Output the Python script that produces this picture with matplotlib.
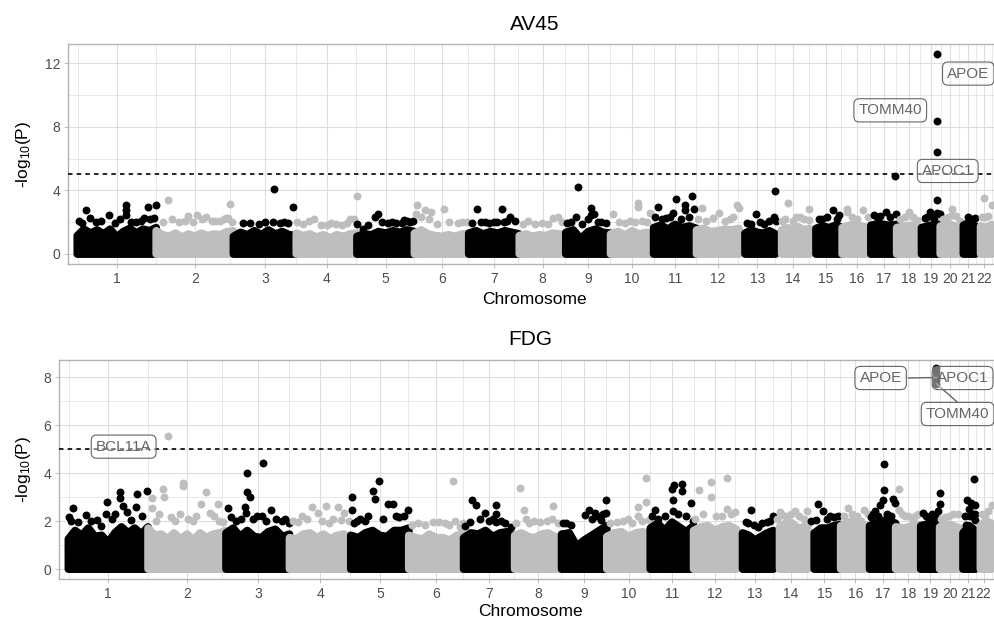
import numpy as np
import matplotlib
matplotlib.use("Agg")
import matplotlib.pyplot as plt
from matplotlib.ticker import FixedLocator

plt.rcParams['font.family'] = ['Liberation Sans', 'DejaVu Sans']
plt.rcParams['mathtext.fontset'] = 'custom'
plt.rcParams['mathtext.rm'] = 'Liberation Sans'
plt.rcParams['mathtext.it'] = 'Liberation Sans:italic'
plt.rcParams['mathtext.default'] = 'regular'

# ---------------- data ----------------
CHROMS = [str(i) for i in range(1, 23)]
CHROM_LEN_MB = [249.25, 243.2, 198.0, 191.15, 180.9, 171.1, 159.1, 146.4, 141.2, 135.5, 135.0,
                133.85, 115.2, 107.35, 102.5, 90.35, 81.2, 78.1, 59.1, 63.0, 48.1, 51.3]
FIRST_SNP_MB = [0.8, 0.1, 0.1, 0.1, 0.1, 0.2, 0.1, 0.2, 0.2, 0.1, 0.2, 0.2,
                19.1, 19.3, 20.1, 0.1, 0.1, 0.1, 0.3, 0.1, 10.0, 16.1]
SIG_LINE = 5.0

# top of the dense mass of SNPs, sampled evenly along each chromosome
AV45_BODY = [
    [1.15, 1.55, 1.3, 1.5, 1.25, 1.55, 1.05, 1.4, 1.6, 1.3, 1.55, 1.45, 1.65],
    [1.45, 1.2, 1.1, 1.3, 1.05, 1.25, 1.1, 1.3, 1.15, 1.25, 1.2, 1.4, 1.45],
    [1.1, 1.35, 1.2, 1.45, 1.2, 1.5, 1.25, 1.4, 1.2, 1.15],
    [1.3, 1.15, 1.25, 1.05, 1.2, 1.0, 1.2, 1.1, 1.25, 1.3],
    [1.1, 1.25, 1.2, 1.4, 1.3, 1.45, 1.35, 1.5, 1.4],
    [1.3, 1.5, 1.25, 1.15, 1.1, 1.2, 1.1, 1.25, 1.3],
    [1.3, 1.45, 1.25, 1.4, 1.3, 1.45, 1.35, 1.25],
    [1.15, 1.25, 1.1, 1.2, 1.15, 1.3, 1.25, 1.2],
    [1.35, 1.5, 0.95, 1.4, 1.55, 1.35, 1.3],
    [1.25, 1.4, 1.2, 1.45, 1.25, 1.35, 1.2],
    [1.65, 1.8, 1.55, 1.85, 1.65, 1.75, 1.6],
    [1.5, 1.6, 1.4, 1.45, 1.55, 1.5, 1.6],
    [1.3, 1.5, 1.35, 1.3, 1.45, 1.25],
    [1.5, 1.65, 1.55, 1.7, 1.5, 1.6],
    [1.6, 1.75, 1.65, 1.8, 1.65],
    [1.65, 1.8, 1.85, 1.7, 1.65],
    [1.8, 1.9, 1.8, 1.85],
    [1.65, 1.75, 1.8, 1.6],
    [1.65, 1.8, 1.85],
    [1.75, 1.85, 1.65],
    [1.8, 1.95, 1.75],
    [1.75, 1.65, 1.85],
]
FDG_BODY = [
    [1.25, 1.6, 1.4, 1.7, 1.35, 1.4, 1.1, 1.5, 1.75, 1.5, 1.7, 1.45, 1.75],
    [1.7, 1.4, 1.45, 1.25, 1.5, 1.25, 1.45, 1.2, 1.5, 1.3, 1.45, 1.5, 1.6],
    [1.5, 1.7, 1.35, 1.6, 1.35, 1.3, 1.55, 1.65, 1.35, 1.45],
    [1.3, 1.25, 1.45, 1.5, 1.3, 1.45, 1.25, 1.4, 1.45, 1.3],
    [1.4, 1.3, 1.5, 1.6, 1.4, 1.35, 1.6, 1.6, 1.7],
    [1.4, 1.3, 1.25, 1.45, 1.3, 1.3, 1.2, 1.4, 1.45],
    [1.3, 1.5, 1.45, 1.6, 1.35, 1.5, 1.55, 1.35],
    [1.4, 1.5, 1.35, 1.3, 1.45, 1.5, 1.35, 1.3],
    [1.45, 1.5, 0.95, 1.2, 1.4, 1.6, 1.8],
    [1.35, 1.5, 1.55, 1.35, 1.5, 1.55, 1.35],
    [1.7, 1.9, 1.6, 1.95, 1.75, 1.55, 1.8],
    [1.6, 1.75, 1.8, 1.6, 1.75, 1.8, 1.65],
    [1.5, 1.4, 1.2, 1.35, 1.5, 1.6],
    [1.75, 1.9, 1.95, 1.75, 1.7, 1.9],
    [1.5, 1.7, 1.7, 1.8, 1.85],
    [1.8, 1.95, 2.0, 1.85, 1.8],
    [1.8, 1.95, 2.05, 1.9],
    [1.75, 1.7, 1.8, 1.85],
    [1.8, 1.9, 1.95],
    [1.75, 1.85, 1.7],
    [1.5, 1.8, 1.6],
    [1.8, 2.0, 1.9],
]

# individual SNPs standing out of the mass (position in Mb within chromosome, -log10 P)
AV45_PEAK_MB = [
    [7, 28, 42, 99, 155, 155, 155, 184, 212, 222, 241, 247],
    [38, 49, 70, 101, 128, 158, 185, 220, 232, 240],
    [53, 123, 129, 171, 187],
    [2, 57, 77, 143, 170, 190],
    [1, 18, 55, 65, 96, 124, 147, 166, 175],
    [5, 8, 33, 52, 92, 136, 164],
    [26, 37, 78, 103, 111, 130, 145],
    [28, 106, 122],
    [5, 31, 39, 79, 79, 90, 102],
    [8, 76, 87, 87, 125],
    [14, 38, 60, 70, 98, 98, 121, 127],
    [16, 52, 70, 126, 133],
    [39, 52, 110, 114.5, 114.8],
    [19.5, 39, 76, 104, 105],
    [29, 74, 93],
    [14, 14, 64],
    [9, 47, 75, 80],
    [39, 65],
    [10, 26, 49, 49, 49, 49, 49, 57],
    [37, 37, 61],
    [16, 45],
    [27, 30, 50.5],
]
AV45_PEAK_LOGP = [
    [2.08, 2.75, 2.29, 2.44, 3.08, 2.75, 2.46, 1.98, 2.29, 2.95, 2.29, 3.06],
    [3.38, 2.23, 2.0, 2.4, 2.44, 2.35, 2.1, 2.29, 3.13, 2.0],
    [1.96, 2.04, 4.06, 1.94, 2.98],
    [2.0, 2.2, 1.8, 1.85, 2.2, 3.65],
    [1.87, 1.6, 2.3, 2.5, 1.97, 1.97, 2.15, 1.98, 2.05],
    [2.5, 3.07, 2.75, 2.67, 2.83, 1.96, 2.03],
    [2.85, 2.0, 2.04, 2.83, 2.0, 2.3, 2.08],
    [2.08, 2.29, 2.34],
    [1.96, 2.34, 4.22, 2.91, 2.44, 2.5, 2.04],
    [2.5, 1.98, 3.19, 2.95, 2.6],
    [2.98, 2.28, 2.6, 3.48, 3.06, 2.78, 3.65, 2.84],
    [2.87, 2.27, 2.6, 3.06, 2.87],
    [1.9, 2.54, 2.3, 3.98, 2.1],
    [2.1, 3.21, 2.35, 2.12, 2.85],
    [2.2, 2.76, 2.42],
    [2.85, 2.65, 2.77],
    [2.48, 2.63, 4.9, 2.53],
    [2.65, 2.15],
    [2.27, 2.65, 12.54, 8.33, 6.38, 3.37, 2.6, 2.5],
    [2.85, 2.45, 2.1],
    [1.9, 2.29],
    [3.52, 2.3, 3.1],
]
# lower SNPs forming the ragged fringe just above the mass
AV45_FRINGE_MB = [
    [15, 60, 75, 120, 135, 170, 200, 230],
    [20, 90, 115, 145, 175, 200, 212, 226],
    [30, 80, 100, 145, 160],
    [20, 40, 95, 110, 125, 160, 183],
    [35, 80, 110, 140, 158],
    [20, 45, 70, 110, 150],
    [10, 50, 65, 90, 120],
    [10, 50, 70, 90, 135],
    [15, 50, 70, 110, 125],
    [25, 45, 60, 100, 115],
    [5, 25, 50, 85, 110],
    [5, 30, 90, 105, 115],
    [25, 65, 80, 95],
    [30, 55, 65, 90],
    [40, 55, 85],
    [30, 45, 80],
    [20, 30, 60],
    [10, 25, 50],
    [18, 35, 40],
    [10, 25, 50],
    [25, 35],
    [20, 40],
]
AV45_FRINGE_LOGP = [
    [1.95, 2.0, 2.1, 1.95, 2.2, 2.0, 2.1, 2.2],
    [2.0, 2.1, 2.0, 2.2, 2.05, 2.1, 2.2, 2.25],
    [1.95, 1.9, 2.0, 1.95, 2.0],
    [1.9, 2.05, 1.8, 1.95, 1.9, 1.95, 2.2],
    [1.8, 2.0, 2.0, 1.95, 2.05],
    [2.3, 2.2, 1.9, 2.0, 2.0],
    [1.95, 2.0, 1.95, 2.0, 2.1],
    [1.9, 1.9, 1.95, 1.9, 2.0],
    [2.0, 1.9, 2.2, 2.0, 1.95],
    [2.0, 1.95, 2.05, 2.1, 2.0],
    [2.3, 2.2, 2.3, 2.2, 2.3],
    [2.2, 2.1, 2.1, 2.2, 2.3],
    [1.95, 2.0, 1.9, 2.1],
    [2.2, 2.1, 2.3, 2.2],
    [2.2, 2.3, 2.2],
    [2.3, 2.2, 2.3],
    [2.3, 2.4, 2.3],
    [2.2, 2.3, 2.35],
    [2.3, 2.4, 2.2],
    [2.2, 2.3, 2.4],
    [2.3, 2.2],
    [2.3, 2.4],
]
FDG_PEAK_MB = [
    [3, 16, 55, 101, 118, 122, 147, 161, 161, 172, 183, 211, 214, 246],
    [12, 12, 45, 50, 63, 72, 100, 108, 110, 165, 180, 193, 219, 222],
    [7, 16, 59, 62, 65, 65, 73, 111, 114, 140, 156, 195],
    [39, 71, 90, 114, 123, 151, 170],
    [3, 5, 10, 44, 68, 75, 88, 117, 130, 151, 179],
    [76, 113, 137, 159],
    [19, 27, 38, 66, 102, 102, 102, 149],
    [16, 29, 34, 115, 120],
    [5, 29, 72, 86, 103, 124, 139, 139.5],
    [77, 97, 97, 123, 123],
    [14, 67, 70, 70, 75, 98, 98, 126, 133],
    [16, 53, 53, 105, 105, 128],
    [28, 44, 67, 95, 114],
    [19.5, 28, 66, 104],
    [26, 31, 47, 83],
    [22, 64, 74],
    [4, 15, 31, 41, 46, 46, 72, 80],
    [9, 9, 38, 53],
    [7, 27, 49, 49, 49, 49, 49, 53, 58.5, 58.5],
    [18, 56],
    [20, 23, 27, 35, 44, 47, 47, 47],
    [29, 51],
]
FDG_PEAK_LOGP = [
    [2.18, 2.55, 2.25, 1.8, 2.28, 2.79, 2.3, 3.22, 2.97, 2.63, 2.38, 2.6, 3.13, 3.25],
    [2.95, 2.55, 3.33, 3.0, 5.55, 2.15, 2.3, 3.6, 3.45, 2.7, 3.2, 2.35, 2.7, 2.0],
    [2.54, 2.15, 2.6, 2.35, 4.02, 3.21, 3.0, 2.21, 4.4, 2.45, 2.1, 1.9],
    [2.22, 2.58, 2.35, 2.61, 1.92, 2.58, 2.34],
    [2.48, 2.99, 1.92, 2.0, 3.25, 2.9, 3.67, 2.7, 2.7, 2.17, 2.45],
    [1.95, 1.93, 3.68, 1.76],
    [1.97, 2.87, 2.65, 2.35, 2.65, 2.28, 1.97, 1.76],
    [3.36, 2.45, 2.08, 2.08, 2.63],
    [1.93, 1.82, 2.26, 2.47, 2.33, 2.05, 2.88, 2.33],
    [1.9, 2.6, 2.2, 3.79, 2.8],
    [2.44, 3.32, 2.88, 2.43, 3.52, 3.54, 3.25, 2.74, 2.02],
    [3.29, 3.64, 3.0, 3.8, 2.49, 2.38],
    [1.95, 2.46, 1.74, 1.97, 2.21],
    [2.36, 2.25, 2.42, 2.42],
    [2.04, 2.7, 2.41, 2.16],
    [2.53, 2.0, 2.46],
    [2.18, 2.4, 2.67, 2.86, 4.375, 3.29, 2.92, 2.75],
    [3.32, 2.47, 2.2, 2.1],
    [2.34, 2.1, 8.38, 8.2, 8.02, 7.86, 7.72, 2.4, 3.15, 2.72],
    [2.15, 2.28],
    [1.83, 2.88, 2.5, 2.75, 3.75, 2.68, 2.3, 2.04],
    [2.2, 2.65],
]
FDG_FRINGE_MB = [
    [10, 30, 70, 90, 135, 195, 230],
    [25, 35, 85, 125, 140, 150, 205, 235],
    [30, 45, 85, 95, 125, 175, 185],
    [10, 25, 55, 100, 135, 160, 185],
    [20, 30, 55, 100, 140, 165],
    [10, 30, 50, 95, 125, 145, 168],
    [5, 50, 80, 90, 115, 130],
    [5, 45, 60, 80, 100, 135],
    [15, 95, 110, 130],
    [10, 30, 50, 65, 110, 130],
    [5, 25, 45, 85, 110],
    [5, 30, 70, 90, 118],
    [35, 55, 80, 105],
    [10, 40, 55, 80, 95],
    [10, 60, 70, 95],
    [10, 35, 50, 85],
    [10, 25, 55, 65],
    [20, 30, 60, 70],
    [15, 35, 45],
    [5, 30, 40],
    [15, 30, 40],
    [20, 40],
]
FDG_FRINGE_LOGP = [
    [2.0, 1.95, 2.0, 2.05, 2.1, 2.05, 2.2],
    [2.0, 2.3, 2.0, 2.1, 2.0, 2.2, 2.2, 1.95],
    [2.0, 2.1, 2.1, 2.2, 2.0, 2.0, 2.1],
    [2.0, 1.95, 2.1, 2.0, 2.1, 2.05, 2.0],
    [2.0, 2.1, 2.2, 2.1, 2.2, 2.2],
    [1.85, 1.9, 1.85, 1.95, 1.85, 2.0, 1.9],
    [1.8, 2.1, 2.0, 2.1, 2.0, 1.9],
    [1.9, 1.9, 2.0, 1.95, 2.0, 1.9],
    [1.9, 2.1, 2.2, 2.3],
    [1.9, 1.95, 2.0, 2.1, 2.0, 2.05],
    [2.2, 2.1, 2.2, 2.3, 2.2],
    [2.1, 2.3, 2.2, 2.2, 2.3],
    [1.9, 1.85, 1.9, 2.0],
    [2.1, 2.2, 2.3, 2.2, 2.1],
    [2.0, 2.1, 2.2, 2.2],
    [2.2, 2.3, 2.2, 2.3],
    [2.3, 2.2, 2.3, 2.2],
    [2.3, 2.2, 2.2, 2.3],
    [2.2, 2.3, 2.2],
    [2.1, 2.2, 2.3],
    [2.2, 2.2, 2.3],
    [2.3, 2.4],
]

# gene labels (x = cumulative Mb, y = -log10 P of the label centre)
AV45_LABEL_TEXT = ["APOE", "TOMM40", "APOC1"]
AV45_LABEL_X = [2806.5, 2560.8, 2741.9]
AV45_LABEL_Y = [11.34, 9.03, 5.22]
FDG_LABEL_TEXT = ["BCL11A", "APOE", "APOC1", "TOMM40"]
FDG_LABEL_X = [172.9, 2534.2, 2789.8, 2774.2]
FDG_LABEL_Y = [5.10, 7.96, 7.96, 6.46]
FDG_SEG_X0 = [2621.5, 2772.0]
FDG_SEG_Y0 = [7.96, 6.97]
FDG_SEG_X1 = [2708.35, 2708.35]
FDG_SEG_Y1 = [7.98, 7.72]

# ---------------- derived ----------------
cum_start = np.concatenate([[0.0], np.cumsum(CHROM_LEN_MB)[:-1]])
centers = cum_start + np.array(CHROM_LEN_MB) / 2.0
minor_x = list((centers[:-1] + centers[1:]) / 2.0)
minor_x = [centers[0] - (centers[1] - centers[0]) / 2.0] + minor_x + \
          [centers[-1] + (centers[-1] - centers[-2]) / 2.0]

COL_A = "#000000"
COL_B = "#BEBEBE"
GRID = "#DEDEDE"
BORDER = "#B3B3B3"
LABCOL = "#666666"
DOT_PT = 5.7

W, H = 995, 622
fig = plt.figure(figsize=(W / 100, H / 100), dpi=100)


def px_axes(left, top, right, bottom):
    return fig.add_axes([left / W, 1 - bottom / H, (right - left) / W, (bottom - top) / H])


def draw_panel(ax, body, peak_mb, peak_lp, fr_mb, fr_lp, ylim, yticks, yminor):
    for i in range(22):
        col = COL_A if i % 2 == 0 else COL_B
        env = body[i]
        xs = np.linspace(FIRST_SNP_MB[i], CHROM_LEN_MB[i] - 0.5, len(env)) + cum_start[i]
        px = np.concatenate([[xs[0]], xs, [xs[-1]]])
        py = np.concatenate([[0.0], env, [0.0]])
        z = 2 + i * 0.02
        ax.fill(px, py, facecolor=col, edgecolor=col, linewidth=DOT_PT,
                joinstyle='round', zorder=z)
        mb = np.array(peak_mb[i] + fr_mb[i], dtype=float) + cum_start[i]
        lp = np.array(peak_lp[i] + fr_lp[i], dtype=float)
        ax.scatter(mb, lp, s=DOT_PT ** 2, color=col, linewidths=0, zorder=z + 0.01)
    ax.axhline(SIG_LINE, color='black', lw=1.2, dashes=(2.7, 2.5), zorder=5)
    ax.set_xlim(-28.8, 2909.6)
    ax.set_ylim(*ylim)
    ax.set_xticks(centers)
    ax.set_xticklabels(CHROMS)
    ax.xaxis.set_minor_locator(FixedLocator(minor_x))
    ax.set_yticks(yticks)
    ax.set_yticklabels([str(t) for t in yticks])
    ax.yaxis.set_minor_locator(FixedLocator(yminor))
    ax.set_axisbelow(True)
    ax.grid(which='major', color=GRID, lw=0.8)
    ax.grid(which='minor', color=GRID, lw=0.5)
    ax.tick_params(which='major', length=2.75, width=0.6, color=BORDER,
                   labelsize=10, labelcolor='#4D4D4D', pad=3)
    ax.tick_params(which='minor', length=0)
    for s in ax.spines.values():
        s.set_color(BORDER)
        s.set_linewidth(1.0)


def label(ax, x, y, txt):
    ax.text(x, y, txt, ha='center', va='center', fontsize=11, color=LABCOL, zorder=10,
            bbox=dict(boxstyle='round,pad=0.3,rounding_size=0.35',
                      fc=(1, 1, 1, 0.45), ec=LABCOL, lw=0.8))


# top panel
ax1 = px_axes(68, 44, 1001, 264)
draw_panel(ax1, AV45_BODY, AV45_PEAK_MB, AV45_PEAK_LOGP, AV45_FRINGE_MB, AV45_FRINGE_LOGP,
           (-0.63, 13.2), [0, 4, 8, 12], [2, 6, 10])
for t, x, y in zip(AV45_LABEL_TEXT, AV45_LABEL_X, AV45_LABEL_Y):
    label(ax1, x, y, t)

# bottom panel
ax2 = px_axes(59, 360, 1001, 579)
draw_panel(ax2, FDG_BODY, FDG_PEAK_MB, FDG_PEAK_LOGP, FDG_FRINGE_MB, FDG_FRINGE_LOGP,
           (-0.415, 8.71), [0, 2, 4, 6, 8], [1, 3, 5, 7])
for x0, y0, x1, y1 in zip(FDG_SEG_X0, FDG_SEG_Y0, FDG_SEG_X1, FDG_SEG_Y1):
    ax2.plot([x0, x1], [y0, y1], color=LABCOL, lw=1.0, zorder=9)
for t, x, y in zip(FDG_LABEL_TEXT, FDG_LABEL_X, FDG_LABEL_Y):
    label(ax2, x, y, t)


def ftext(x, y, s, **kw):
    fig.text(x / W, 1 - y / H, s, **kw)


ftext(535, 30, "AV45", ha='center', va='baseline', fontsize=15)
ftext(530, 345, "FDG", ha='center', va='baseline', fontsize=15)
ftext(534.5, 304.5, "Chromosome", ha='center', va='baseline', fontsize=12.5)
ftext(530, 616, "Chromosome", ha='center', va='baseline', fontsize=12.5)
ftext(24, 154, r"-log$_{10}$(P)", ha='center', va='center', rotation=90, fontsize=12.5)
ftext(24, 469, r"-log$_{10}$(P)", ha='center', va='center', rotation=90, fontsize=12.5)

fig.savefig("out.png", dpi=100)
